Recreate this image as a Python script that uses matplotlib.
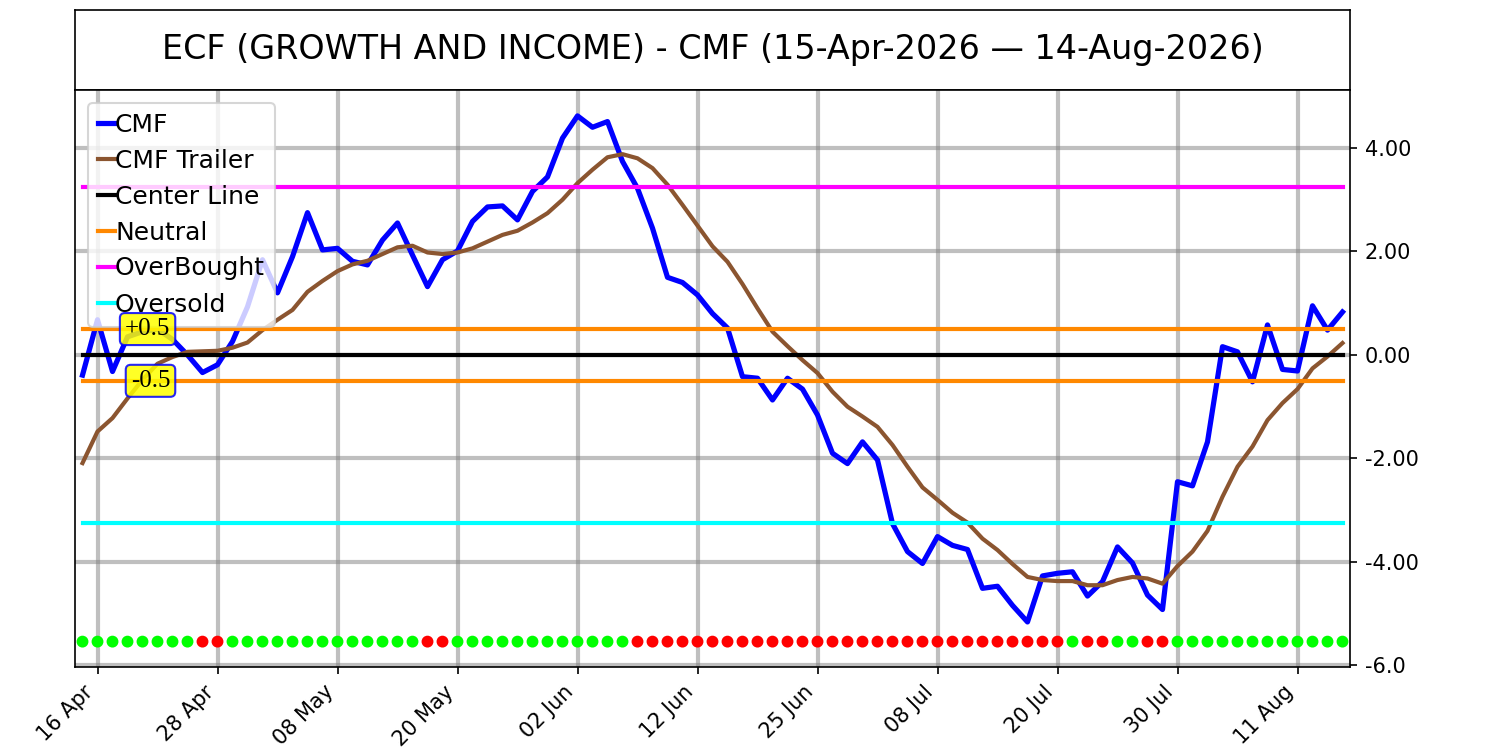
import numpy as np
import pandas as pd
import matplotlib
matplotlib.use('Agg')
import matplotlib.pyplot as plt

# trading days 15-Apr-2026 .. 14-Aug-2026 (US market holidays skipped)
holidays = ['2026-05-25', '2026-06-19', '2026-07-03']
dates = pd.bdate_range('2026-04-15', '2026-08-14', freq='C', holidays=holidays)

cmf = [-0.39, 0.68, -0.32, 0.35, 0.45, 0.50, 0.30, 0.00, -0.34, -0.19,
       0.26, 0.93, 1.84, 1.20, 1.90, 2.75, 2.03, 2.06, 1.81, 1.74,
       2.22, 2.55, 1.93, 1.32, 1.84, 2.01, 2.58, 2.86, 2.88, 2.61,
       3.16, 3.44, 4.19, 4.62, 4.40, 4.51, 3.74, 3.22, 2.45, 1.50,
       1.40, 1.16, 0.80, 0.52, -0.42, -0.45, -0.87, -0.45, -0.66, -1.16,
       -1.90, -2.10, -1.68, -2.03, -3.26, -3.80, -4.03, -3.51, -3.68, -3.76,
       -4.51, -4.47, -4.84, -5.16, -4.27, -4.22, -4.19, -4.66, -4.38, -3.71,
       -4.02, -4.64, -4.92, -2.45, -2.53, -1.68, 0.16, 0.06, -0.52, 0.58,
       -0.28, -0.31, 0.95, 0.48, 0.83]

trailer = [-2.09, -1.48, -1.22, -0.84, -0.48, -0.17, -0.04, 0.06, 0.07, 0.08,
           0.14, 0.24, 0.48, 0.68, 0.87, 1.22, 1.43, 1.62, 1.75, 1.82,
           1.95, 2.08, 2.11, 1.98, 1.95, 1.98, 2.06, 2.19, 2.32, 2.40,
           2.56, 2.74, 3.00, 3.32, 3.58, 3.82, 3.88, 3.80, 3.61, 3.29,
           2.90, 2.50, 2.10, 1.80, 1.37, 0.90, 0.45, 0.17, -0.10, -0.35,
           -0.71, -1.00, -1.19, -1.39, -1.74, -2.16, -2.56, -2.80, -3.05, -3.24,
           -3.55, -3.77, -4.04, -4.29, -4.35, -4.37, -4.37, -4.45, -4.45, -4.35,
           -4.29, -4.32, -4.42, -4.08, -3.80, -3.40, -2.74, -2.16, -1.77, -1.26,
           -0.93, -0.66, -0.26, -0.03, 0.23]

# days where the signal dot is red (all others green)
red_days = [8, 9, 23, 24] + list(range(37, 66)) + [67, 68, 71, 72]

center = 0.0
neutral = 0.5
overbought = 3.25
oversold = -3.25
dot_level = -5.54

ytick_vals = [4, 2, 0, -2, -4, -6]
ytick_labels = ['4.00', '2.00', '0.00', '-2.00', '-4.00', '-6.0']

n = len(cmf)
x = np.arange(n)
dot_colors = ['#ff0000' if i in red_days else '#00ff00' for i in range(n)]

fig = plt.figure(figsize=(10, 5), dpi=150)

# title box
tax = fig.add_axes([0.05, 0.88, 0.85, 0.1067])
tax.set_xticks([])
tax.set_yticks([])
tax.text(0.5, 0.5, 'ECF (GROWTH AND INCOME) - CMF (15-Apr-2026 \u2014 14-Aug-2026)',
         ha='center', va='center', fontsize=16, transform=tax.transAxes)

ax = fig.add_axes([0.05, 0.1107, 0.85, 0.7693])
ax.grid(True, color='gray', alpha=0.5, lw=2)
ax.set_axisbelow(True)

ax.plot(x, cmf, color='#0000ff', lw=2.5, label='CMF')
ax.plot(x, trailer, color='#8b5530', lw=2, label='CMF Trailer')
ax.plot(x, [center] * n, color='black', lw=2, label='Center Line')
ax.plot(x, [neutral] * n, color='#ff8800', lw=2, label='Neutral')
ax.plot(x, [-neutral] * n, color='#ff8800', lw=2)
ax.plot(x, [overbought] * n, color='#ff00ff', lw=2, label='OverBought')
ax.plot(x, [oversold] * n, color='#00ffff', lw=2, label='Oversold')
ax.scatter(x, [dot_level] * n, c=dot_colors, s=22, zorder=3)

box = dict(boxstyle='round,pad=0.2', facecolor='yellow', edgecolor='blue', alpha=0.85)
ax.text(5.85, neutral, '+0.5', ha='right', va='center', fontsize=12,
        family='Liberation Serif', bbox=box, zorder=6)
ax.text(5.85, -neutral, '-0.5', ha='right', va='center', fontsize=12,
        family='Liberation Serif', bbox=box, zorder=6)

ax.set_xlim(-0.5, n - 0.5)
ax.set_ylim(-6.03, 5.12)

tick_idx = list(range(1, n, 8))
ax.set_xticks(tick_idx)
ax.set_xticklabels([dates[i].strftime('%d %b') for i in tick_idx],
                   rotation=45, ha='right', fontsize=10)

ax.yaxis.tick_right()
ax.set_yticks(ytick_vals)
ax.set_yticklabels(ytick_labels, fontsize=10)

ax.legend(loc='upper left', fontsize=12, handlelength=0.7, handletextpad=0.0,
          labelspacing=0.48)

fig.savefig('out.png', dpi=150)
